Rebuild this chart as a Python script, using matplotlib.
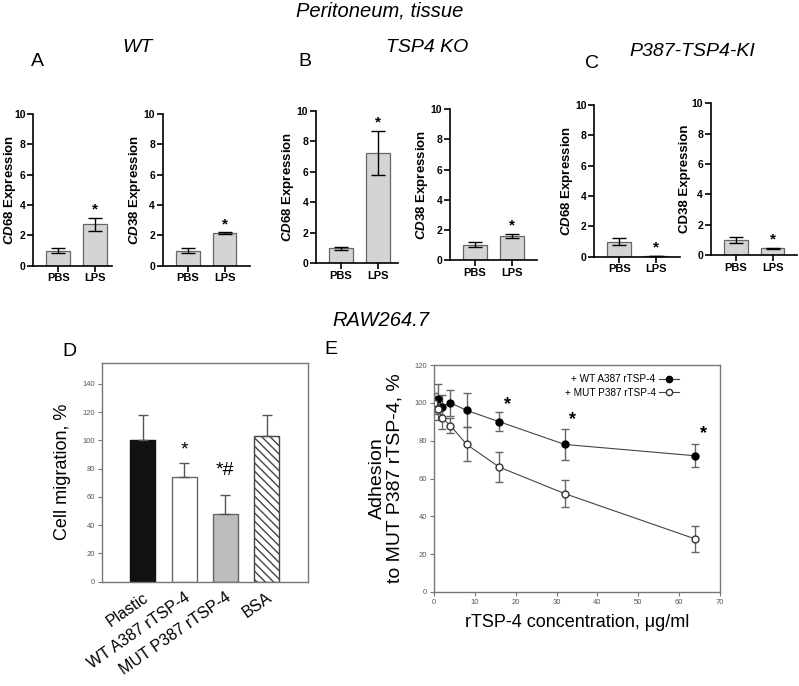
import matplotlib
matplotlib.use("Agg")
import matplotlib.pyplot as plt
from matplotlib.lines import Line2D

plt.rcParams['font.family'] = ['Liberation Sans', 'DejaVu Sans']
plt.rcParams['mathtext.fontset'] = 'custom'
plt.rcParams['mathtext.it'] = 'Liberation Sans:italic:bold'
plt.rcParams['mathtext.rm'] = 'Liberation Sans:bold'

# ---- data: peritoneum tissue (A-C) ----
groups = ['PBS', 'LPS']
wt_cd68 = [1.0, 2.72]
wt_cd68_err = [0.17, 0.43]
wt_cd38 = [1.0, 2.15]
wt_cd38_err = [0.15, 0.05]
ko_cd68 = [1.0, 7.25]
ko_cd68_err = [0.1, 1.45]
ko_cd38 = [1.0, 1.58]
ko_cd38_err = [0.17, 0.13]
ki_cd68 = [1.0, 0.05]
ki_cd68_err = [0.22, 0.02]
ki_cd38 = [1.0, 0.45]
ki_cd38_err = [0.2, 0.04]

# ---- data: RAW264.7 migration (D) ----
mig_labels = ['Plastic', 'WT A387 rTSP-4', 'MUT P387 rTSP-4', 'BSA']
mig_values = [100, 74, 48, 103]
mig_err = [18, 10, 13.5, 15]

# ---- data: adhesion (E) ----
conc = [0, 1, 2, 4, 8, 16, 32, 64]
wt_adh = [100, 102, 98, 100, 96, 90, 78, 72]
wt_adh_err = [5, 8, 6, 7, 9, 5, 8, 6]
mut_adh = [100, 97, 92, 88, 78, 66, 52, 28]
mut_adh_err = [5, 6, 6, 4, 9, 8, 7, 7]

W, H = 799, 686
fig = plt.figure(figsize=(W / 100, H / 100), dpi=100)


def px_axes(left, top, right, bottom):
    return fig.add_axes([left / W, 1 - bottom / H, (right - left) / W, (bottom - top) / H])


def ftext(x, y, s, **kw):
    fig.text(x / W, 1 - y / H, s, ha='center', va='center', **kw)


# ---- top row ----
top_panels = [
    (33.3, 114, 111.7, 265.7, wt_cd68, wt_cd68_err, r'$\mathit{CD68}$ Expression', 15.5),
    (162.7, 114, 250, 265.7, wt_cd38, wt_cd38_err, r'$\mathit{CD38}$ Expression', 19.5),
    (316, 111, 398, 263.3, ko_cd68, ko_cd68_err, r'$\mathit{CD68}$ Expression', 19.5),
    (450, 109.3, 537, 260, ko_cd38, ko_cd38_err, r'$\mathit{CD38}$ Expression', 19.5),
    (594.3, 105, 680, 256.7, ki_cd68, ki_cd68_err, r'$\mathit{CD68}$ Expression', 19.5),
    (710.7, 103.3, 797, 255, ki_cd38, ki_cd38_err, 'CD38 Expression', 19.5),
]
for left, top, right, bottom, vals, errs, ylab, lab_off in top_panels:
    ax = px_axes(left, top, right, bottom)
    xs = range(len(groups))
    ax.bar(xs, vals, width=0.65, color='#d4d4d4', edgecolor='#666666', linewidth=0.9)
    ax.errorbar(xs, vals, yerr=errs, fmt='none', ecolor='black', elinewidth=1, capsize=5, capthick=1)
    ax.text(1, vals[1] + errs[1] + 0.55, '*', ha='center', va='center', fontsize=11, fontweight='bold')
    ax.set_xlim(-0.68, -0.68 + (right - left) / 36.8)
    ax.set_ylim(0, 10)
    ax.set_yticks(range(0, 11, 2))
    ax.set_xticks(list(xs))
    ax.set_xticklabels(groups, fontsize=8, fontweight='bold')
    for t in ax.get_yticklabels():
        t.set_fontsize(7.5)
        t.set_fontweight('bold')
    ax.spines['top'].set_visible(False)
    ax.spines['right'].set_visible(False)
    for s in ('left', 'bottom'):
        ax.spines[s].set_linewidth(1.2)
    ax.tick_params(width=1.2, length=4, pad=1.5)
    ax.set_ylabel(ylab, fontsize=9.5, fontweight='bold')
    ax.yaxis.set_label_coords(-lab_off / (right - left), 0.5)

ftext(380, 11, 'Peritoneum, tissue', fontsize=14.5, style='italic')
ftext(137, 47, 'WT', fontsize=14, style='italic')
ftext(427, 47, 'TSP4 KO', fontsize=14, style='italic')
ftext(692, 52, 'P387-TSP4-KI', fontsize=14, style='italic')
ftext(37, 62, 'A', fontsize=14)
ftext(305, 62, 'B', fontsize=14)
ftext(592, 63, 'C', fontsize=14)

# ---- D: migration ----
ftext(381, 320, 'RAW264.7', fontsize=14.5, style='italic')
ftext(69, 352, 'D', fontsize=14)
ftext(331, 349, 'E', fontsize=14)

axd = px_axes(101.7, 362.7, 307.7, 581.7)
xd = range(len(mig_labels))
faces = ['#111111', 'white', '#bdbdbd', 'white']
hatches = [None, None, None, '\\\\\\\\']
edges = ['#111111', '#666666', '#666666', '#444444']
for i in xd:
    axd.bar(i, mig_values[i], width=0.61, color=faces[i], edgecolor=edges[i],
            hatch=hatches[i], linewidth=1)
axd.errorbar(list(xd), mig_values, yerr=[[0] * len(mig_err), mig_err], fmt='none',
             ecolor='#555555', elinewidth=1, capsize=3.5, capthick=1)
axd.text(1, 93, '*', ha='center', va='center', fontsize=14)
axd.text(2, 79, '*#', ha='center', va='center', fontsize=14)
axd.set_xlim(-1, 4)
axd.set_ylim(0, 155)
axd.set_yticks(range(0, 141, 20))
axd.set_xticks(list(xd))
axd.set_xticklabels(mig_labels, rotation=35, ha='right', rotation_mode='anchor', fontsize=11.5)
axd.tick_params(axis='x', length=0, pad=6)
axd.tick_params(axis='y', length=3, labelsize=5.5, labelcolor='#555555', color='#777777', pad=2)
for s in axd.spines.values():
    s.set_color('#777777')
    s.set_linewidth(1)
axd.set_ylabel('Cell migration, %', fontsize=13, labelpad=8)

# ---- E: adhesion ----
axe = px_axes(434, 365, 720, 592)
axe.errorbar(conc, wt_adh, yerr=wt_adh_err, fmt='none', ecolor='#666666', elinewidth=1,
             capsize=3, capthick=1)
axe.errorbar(conc, mut_adh, yerr=mut_adh_err, fmt='none', ecolor='#666666', elinewidth=1,
             capsize=3, capthick=1)
axe.plot(conc, wt_adh, '-o', color='#444444', lw=0.8, mfc='black', mec='black', ms=5)
axe.plot(conc, mut_adh, '-o', color='#444444', lw=0.8, mfc='white', mec='#333333', ms=5)
for x, y in [(18, 99), (34, 91), (66, 83.5)]:
    axe.text(x, y, '*', ha='center', va='center', fontsize=13, fontweight='bold')
axe.set_xlim(0, 70)
axe.set_ylim(0, 120)
axe.set_xticks(range(0, 71, 10))
axe.set_yticks(range(0, 121, 20))
axe.tick_params(length=3, labelsize=5.5, labelcolor='#555555', color='#777777', pad=2)
for s in axe.spines.values():
    s.set_color('#777777')
    s.set_linewidth(1)
axe.set_xlabel('rTSP-4 concentration, \u03bcg/ml', fontsize=13, labelpad=6)
axe.set_ylabel('Adhesion\nto MUT P387 rTSP-4, %', fontsize=14, linespacing=1.0, labelpad=8)
handles = [
    Line2D([], [], color='#444444', lw=0.8, marker='o', mfc='black', mec='black', ms=4.5),
    Line2D([], [], color='#444444', lw=0.8, marker='o', mfc='white', mec='#333333', ms=4.5),
]
axe.legend(handles, ['+ WT A387 rTSP-4', '+ MUT P387 rTSP-4'], loc='upper right',
           bbox_to_anchor=(0.855, 0.96), frameon=False, markerfirst=False, fontsize=7.2,
           handlelength=2.0, handletextpad=0.3, labelspacing=0.35, borderpad=0, borderaxespad=0)

fig.savefig('out.png', dpi=100)
